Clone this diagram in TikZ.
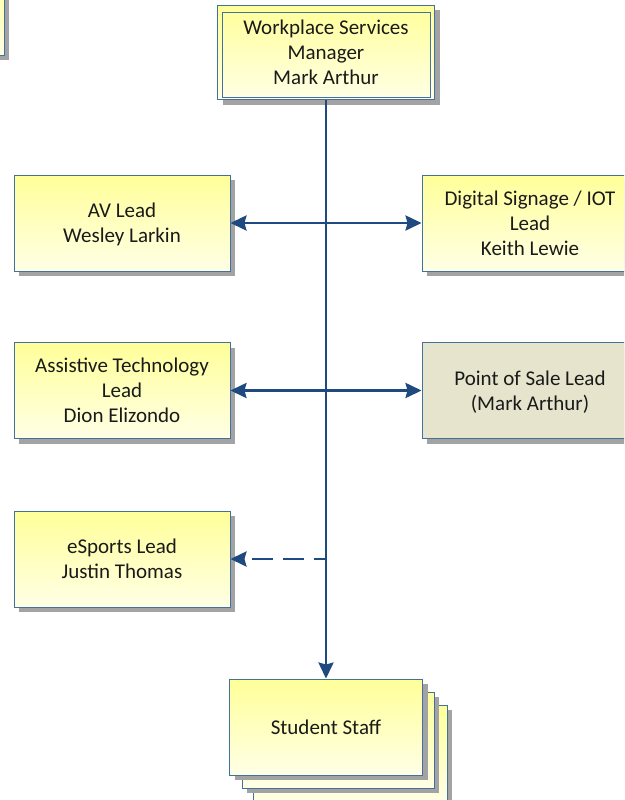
\documentclass[tikz,border=0pt]{standalone}
\usepackage{fontspec}
\setmainfont{Carlito}
\usetikzlibrary{arrows.meta,shadows,calc}
\definecolor{boxline}{HTML}{41719C}
\definecolor{wire}{HTML}{1F4A7F}
\definecolor{shade}{HTML}{A3A3A3}
\definecolor{ytop}{HTML}{FFFF99}
\definecolor{ybot}{HTML}{FFFFE6}
\definecolor{sand}{HTML}{E6E4CC}
\definecolor{ink}{HTML}{1A1A1A}
\tikzset{
  card/.style={draw=boxline, line width=0.9pt, top color=ytop, bottom color=ybot,
    minimum width=216pt, minimum height=96pt, inner sep=0pt, align=center,
    text=ink, font=\fontsize{21}{25}\selectfont, text depth=-6pt,
    general shadow={fill=shade, shadow xshift=5pt, shadow yshift=-5pt}},
  plaincard/.style={card, fill=sand, top color=sand, bottom color=sand},
  navytip/.tip={Stealth[length=16pt, width=15pt, inset=2pt]},
  wireline/.style={draw=wire, line width=2.8pt},
  dashwire/.style={wireline, dash pattern=on 21pt off 10pt, dash phase=9pt}
}
\begin{document}
\begin{tikzpicture}[x=1pt, y=-1pt]
\useasboundingbox (0,0) rectangle (624,800);
\clip (0,0) rectangle (624,800);

% box cut by the left margin
\node[card, minimum width=120pt, minimum height=80pt] (edge) at (-56,15) {};

% manager with double frame
\node[card, minimum width=217pt, minimum height=94pt, text depth=-8pt] (mgr) at (326,52.5) {Workplace Services\\Manager\\Mark Arthur};
\draw[boxline, line width=0.9pt] ([shift={(5.5pt,-7pt)}]mgr.north west) rectangle ([shift={(-5pt,3pt)}]mgr.south east);

% leads
\node[card] (av) at (122,223) {AV Lead\\Wesley Larkin};
\node[card] (ds) at (530,223) {Digital Signage / IOT\\Lead\\Keith Lewie};
\node[card] (at) at (122,390.5) {Assistive Technology\\Lead\\Dion Elizondo};
\node[plaincard, text depth=-1pt] (pos) at (530,390.5) {Point of Sale Lead\\(Mark Arthur)};
\node[card] (es) at (122,559) {eSports Lead\\Justin Thomas};

% stacked student staff
\node[card, minimum width=194pt] (ss3) at (350,753) {};
\node[card, minimum width=192pt] (ss2) at (338,740) {};
\node[card, minimum width=193pt, text depth=-2pt] (ss) at (326,727) {Student Staff};

% connectors
\draw[wireline, -navytip] (mgr.south) -- (ss.north);
\draw[wireline, navytip-navytip] (av.east) -- (ds.west);
\draw[wireline, navytip-navytip] (at.east) -- (pos.west);
\coordinate (tap) at (mgr.south |- es.east);
\draw[dashwire, -navytip] (tap) -- (es.east);
\end{tikzpicture}
\end{document}
